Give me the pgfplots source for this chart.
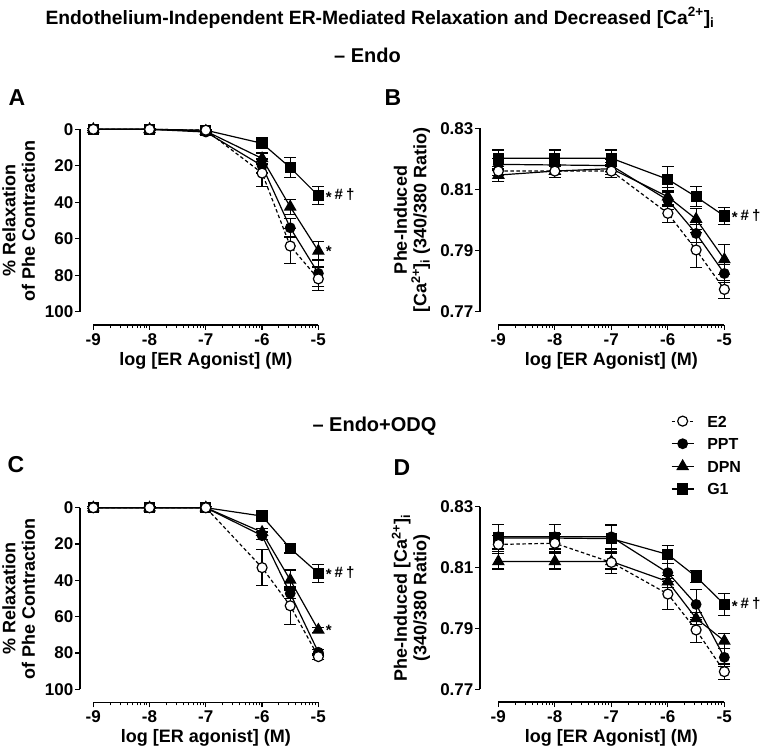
\documentclass[border=0pt]{standalone}
\usepackage{pgfplots}
\pgfplotsset{compat=1.18}
\usepackage{pgfplotstable}
\usepackage{fontspec}
\setmainfont{Liberation Sans}

% x: log [agonist]; columns: mean and SEM for each agonist
\pgfplotstableread{
x     e2    e2e   ppt   ppte  dpn   dpne  g1    g1e
-9    0     0.5   0     0.5   0     0.5   0     0.5
-8    0     0.5   0     0.5   0     0.5   0     0.5
-7    0.5   0.5   1.5   0.5   1     0.5   0.5   0.5
-6    24    7.5   20    4     16    3     7.7   3
-5.5  64    9.5   54    5     42.5  4     21    5.5
-5    82    6.5   79    7     66.7  5     36.4  5
}\dataA
\pgfplotstableread{
x     e2      e2e     ppt     ppte    dpn     dpne    g1      g1e
-9    0.8160  0.0015  0.8182  0.0020  0.8147  0.0020  0.8202  0.0027
-8    0.8160  0.0020  0.8180  0.0020  0.8160  0.0020  0.8202  0.0027
-7    0.8160  0.0020  0.8178  0.0020  0.8168  0.0020  0.8202  0.0027
-6    0.8022  0.0030  0.8065  0.0030  0.8076  0.0030  0.8133  0.0043
-5.5  0.7902  0.0058  0.7956  0.0030  0.8003  0.0035  0.8076  0.0033
-5    0.7773  0.0030  0.7825  0.0030  0.7871  0.0048  0.8013  0.0028
}\dataB
\pgfplotstableread{
x     e2    e2e   ppt   ppte  dpn   dpne  g1    g1e
-9    0     0.5   0     0.5   0     0.5   0     0.5
-8    0     0.5   0     0.5   0     0.5   0     0.5
-7    0     0.5   0     0.5   0     0.5   0     0.5
-6    33    10    15.4  2     13.5  2     4.6   2.5
-5.5  54    10.5  47.2  3     39.8  5.5   22.4  2.5
-5    82    1.5   79.6  1.5   67.3  1.5   36.1  5
}\dataC
\pgfplotstableread{
x     e2      e2e     ppt     ppte    dpn     dpne    g1      g1e
-9    0.8176  0.0030  0.8201  0.0040  0.8120  0.0025  0.8197  0.0045
-8    0.8180  0.0030  0.8201  0.0040  0.8120  0.0025  0.8197  0.0045
-7    0.8117  0.0037  0.8201  0.0040  0.8120  0.0025  0.8195  0.0045
-6    0.8013  0.0050  0.8083  0.0030  0.8054  0.0020  0.8143  0.0030
-5.5  0.7895  0.0040  0.7979  0.0050  0.7933  0.0020  0.8070  0.0020
-5    0.7758  0.0025  0.7805  0.0030  0.7859  0.0025  0.7979  0.0037
}\dataD

\newcommand{\lbl}{\fontsize{17}{19}\selectfont}
\newcommand{\axl}{\fontsize{18}{19.5}\selectfont}
\newcommand{\sig}{\raisebox{-0.3ex}{*}}
\newcommand{\stars}{\sig\hspace{0.2em}\#\hspace{0.2em}†}

\tikzset{note/.style={anchor=west, xshift=4pt, font=\fontsize{15}{17}\selectfont}}

\pgfplotsset{
  panel/.style={
    scale only axis, clip=false,
    axis x line=none, axis y line*=left, xtick=\empty,
    axis line style={line width=1.4pt},
    tick align=outside, major tick length=5pt,
    every tick/.style={black, line width=1.4pt},
    yticklabel style={font=\lbl, inner sep=1.5pt},
    every axis y label/.append style={at={(ticklabel cs:0.5,5pt)}},
    ylabel style={font=\axl, align=center},
  },
  xonly/.style={
    scale only axis, height=1pt, ymin=0, ymax=1,
    axis y line=none, axis x line*=bottom, ytick=\empty,
    xmin=-9, xmax=-5,
    xtick={-9,-8,-7,-6,-5}, xticklabels={-9,-8,-7,-6,-5},
    minor xtick={-8.69897,-8.52288,-8.39794,-8.30103,-8.22185,-8.15490,-8.09691,-8.04576,
                 -7.69897,-7.52288,-7.39794,-7.30103,-7.22185,-7.15490,-7.09691,-7.04576,
                 -6.69897,-6.52288,-6.39794,-6.30103,-6.22185,-6.15490,-6.09691,-6.04576,
                 -5.69897,-5.52288,-5.39794,-5.30103,-5.22185,-5.15490,-5.09691,-5.04576},
    axis line style={line width=1.4pt},
    tick align=outside, major tick length=5pt, minor tick length=3pt,
    every tick/.style={black, line width=1pt},
    every major tick/.append style={line width=1.3pt},
    xticklabel style={font=\lbl},
    xlabel style={font=\axl},
  },
  ser/.style={black, line width=1.2pt,
    error bars/y dir=both, error bars/y explicit,
    error bars/error mark=|,
    error bars/error mark options={black, solid, line width=1.2pt, mark size=6pt},
    error bars/error bar style={black, solid, line width=1.2pt}},
  e2/.style={ser, dash pattern=on 3.5pt off 2.5pt, mark=*, mark size=5pt,
    mark options={solid, fill=white}},
  ppt/.style={ser, mark=*, mark size=4.8pt},
  dpn/.style={ser, mark=triangle*, mark size=6.2pt},
  g1/.style={ser, mark=square*, mark size=5pt},
}

\begin{document}
\bfseries
\begin{tikzpicture}
\useasboundingbox (0pt,0pt) rectangle (765pt,-751pt);

\node[font=\fontsize{19.3}{24}\selectfont] at (380pt,-18pt)
  {Endothelium-Independent ER-Mediated Relaxation and Decreased [Ca\textsuperscript{2+}]\textsubscript{i}};
\node[font=\fontsize{20}{24}\selectfont] at (367.5pt,-55pt) {– Endo};
\node[font=\fontsize{20}{24}\selectfont] at (374.5pt,-426pt) {– Endo+ODQ};
\node[font=\fontsize{23}{26}\selectfont] at (17pt,-98pt) {A};
\node[font=\fontsize{23}{26}\selectfont] at (393pt,-98pt) {B};
\node[font=\fontsize{23}{26}\selectfont] at (16pt,-465pt) {C};
\node[font=\fontsize{23}{26}\selectfont] at (402pt,-468pt) {D};

% ---- A
\begin{axis}[panel, at={(199.2pt,-220.5pt)}, anchor=center,
    width=238.3pt, height=182.4pt, xmin=-9.236, xmax=-5,
    y dir=reverse, ymin=0, ymax=100,
    ytick={0,20,40,60,80,100}, yticklabels={0,20,40,60,80,100},
    ylabel={\% Relaxation\\of Phe Contraction}]
\addplot[g1]  table[x=x, y=g1,  y error=g1e]  {\dataA};
\addplot[dpn] table[x=x, y=dpn, y error=dpne] {\dataA};
\addplot[ppt] table[x=x, y=ppt, y error=ppte] {\dataA};
\addplot[e2]  table[x=x, y=e2,  y error=e2e]  {\dataA};
\node[note] at (axis cs:-5,36.4) {\stars};
\node[note] at (axis cs:-5,66.7) {\sig};
\end{axis}
\begin{axis}[xonly, at={(93.3pt,-325pt)}, anchor=south west, width=225pt,
    xlabel={log [ER Agonist] (M)}]
\end{axis}

% ---- B
\begin{axis}[panel, at={(602.2pt,-220pt)}, anchor=center,
    width=244.3pt, height=183.4pt, xmin=-9.324, xmax=-5,
    ymin=0.77, ymax=0.83,
    ytick={0.77,0.79,0.81,0.83}, yticklabels={0.77,0.79,0.81,0.83},
    ylabel={Phe-Induced\\{}[Ca\textsuperscript{2+}]\textsubscript{i} (340/380 Ratio)}]
\addplot[g1]  table[x=x, y=g1,  y error=g1e]  {\dataB};
\addplot[dpn] table[x=x, y=dpn, y error=dpne] {\dataB};
\addplot[ppt] table[x=x, y=ppt, y error=ppte] {\dataB};
\addplot[e2]  table[x=x, y=e2,  y error=e2e]  {\dataB};
\node[note] at (axis cs:-5,0.8013) {\stars};
\end{axis}
\begin{axis}[xonly, at={(498.3pt,-325pt)}, anchor=south west, width=226pt,
    xlabel={log [ER Agonist] (M)}]
\end{axis}

% ---- C
\begin{axis}[panel, at={(199.2pt,-598.5pt)}, anchor=center,
    width=238.3pt, height=181.6pt, xmin=-9.236, xmax=-5,
    y dir=reverse, ymin=0, ymax=100,
    ytick={0,20,40,60,80,100}, yticklabels={0,20,40,60,80,100},
    ylabel={\% Relaxation\\of Phe Contraction}]
\addplot[g1]  table[x=x, y=g1,  y error=g1e]  {\dataC};
\addplot[dpn] table[x=x, y=dpn, y error=dpne] {\dataC};
\addplot[ppt] table[x=x, y=ppt, y error=ppte] {\dataC};
\addplot[e2]  table[x=x, y=e2,  y error=e2e]  {\dataC};
\node[note] at (axis cs:-5,36.1) {\stars};
\node[note] at (axis cs:-5,67.3) {\sig};
\end{axis}
\begin{axis}[xonly, at={(93.3pt,-702.3pt)}, anchor=south west, width=225pt,
    xlabel={log [ER agonist] (M)}]
\end{axis}

% ---- D
\begin{axis}[panel, at={(602.2pt,-598pt)}, anchor=center,
    width=244.3pt, height=182.6pt, xmin=-9.324, xmax=-5,
    ymin=0.77, ymax=0.83,
    ytick={0.77,0.79,0.81,0.83}, yticklabels={0.77,0.79,0.81,0.83},
    ylabel={Phe-Induced [Ca\textsuperscript{2+}]\textsubscript{i}\\(340/380 Ratio)},
    reverse legend,
    legend image code/.code={\draw[mark repeat=2, mark phase=2, #1]
      plot coordinates {(0pt,0pt) (11pt,0pt) (22pt,0pt)};},
    legend style={at={(axis description cs:0.781,1.283)}, anchor=west,
      draw=none, fill=none, inner sep=0pt, row sep=8.6pt, column sep=12pt,
      font=\fontsize{16}{18}\selectfont,
      nodes={inner sep=1pt, text height=12pt, text depth=0pt}},
    legend cell align=left]
\addplot[g1]  table[x=x, y=g1,  y error=g1e]  {\dataD};
\addlegendentry{G1}
\addplot[dpn] table[x=x, y=dpn, y error=dpne] {\dataD};
\addlegendentry{DPN}
\addplot[ppt] table[x=x, y=ppt, y error=ppte] {\dataD};
\addlegendentry{PPT}
\addplot[e2]  table[x=x, y=e2,  y error=e2e]  {\dataD};
\addlegendentry{E2}
\node[note] at (axis cs:-5,0.7979) {\stars};
\end{axis}
\begin{axis}[xonly, at={(498.3pt,-702pt)}, anchor=south west, width=226pt,
    xlabel={log [ER Agonist] (M)}]
\end{axis}
\end{tikzpicture}
\end{document}
